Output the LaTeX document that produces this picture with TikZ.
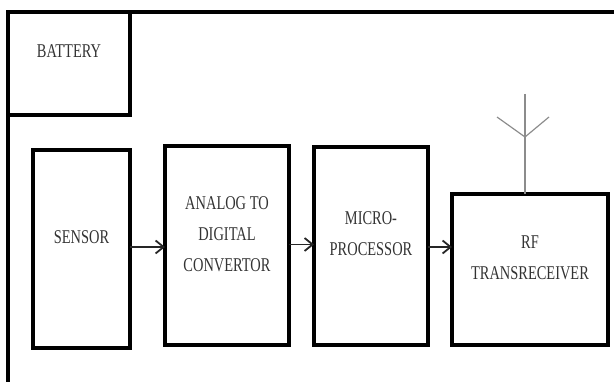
\documentclass[tikz,border=0pt]{standalone}
\usepackage{fontspec}
\newfontfamily\blockfont{Liberation Serif}[FakeStretch=0.74]
\usepackage{tikz}
\usetikzlibrary{positioning, calc, arrows.meta}

\begin{document}
\begin{tikzpicture}[
    x=1pt, y=-1pt,
    blockbox/.style={rectangle, draw=black, line width=3.5pt, anchor=north west,
                     inner sep=0pt, outer sep=0pt},
    txt/.style={font=\blockfont\fontsize{19.5}{31}\selectfont, text=black!80,
                align=center, inner sep=0pt},
    arrow/.style={-{Straight Barb[length=8pt, width=13pt]}, line width=1.8pt, black!85},
    antline/.style={draw=black!45, line width=1.2pt},
  ]
    \useasboundingbox (0,0) rectangle (614,382);
    \clip (0,0) rectangle (614,382);

    % outer frame
    \coordinate (FR_BL) at (8,390);
    \coordinate (FR_TL) at (8,12);
    \coordinate (FR_TR) at (620,12);
    \draw[line width=4pt, line join=miter] (FR_BL) -- (FR_TL) -- (FR_TR);

    % battery
    \node[blockbox, line width=4pt, minimum width=122pt, minimum height=103pt]
      (BAT) at (8,12) {};
    \node[txt] (BAT_T) at ([yshift=12pt]BAT.center) {BATTERY};

    % signal chain
    \node[blockbox, minimum width=97pt, minimum height=198pt] (SEN) at (33,150) {};
    \node[blockbox, minimum width=124pt, minimum height=199pt] (ADC) at (165,146) {};
    \node[blockbox, minimum width=114pt, minimum height=198pt] (MP) at (314,147) {};
    \node[blockbox, minimum width=156pt, minimum height=151pt] (RF) at (452,194) {};

    \node[txt] (SEN_T) at ([yshift=12pt]SEN.center) {SENSOR};
    \node[txt] (ADC_T) at ([yshift=11pt]ADC.center) {ANALOG TO\\DIGITAL\\CONVERTOR};
    \node[txt] (MP_T) at ([yshift=12pt]MP.center) {MICRO-\\PROCESSOR};
    \node[txt] (RF_T) at ([yshift=12pt]RF.center) {RF\\TRANSRECEIVER};

    \draw[arrow] ([yshift=2pt]SEN.east) -- ([yshift=2pt]SEN.east -| ADC.west);
    \draw[arrow] ([yshift=1pt]ADC.east) -- ([yshift=1pt]ADC.east -| MP.west);
    \draw[arrow] ([yshift=-1pt]MP.east) -- ([yshift=-1pt]MP.east -| RF.west);

    % antenna
    \coordinate (ANT_TOP) at (525,94);
    \coordinate (ANT_V) at (525,137);
    \coordinate (ANT_L) at (497,117);
    \coordinate (ANT_R) at (549,117);
    \draw[antline] (ANT_TOP) -- (ANT_TOP |- RF.north);
    \draw[antline] (ANT_L) -- (ANT_V) -- (ANT_R);
  \end{tikzpicture}
\end{document}
